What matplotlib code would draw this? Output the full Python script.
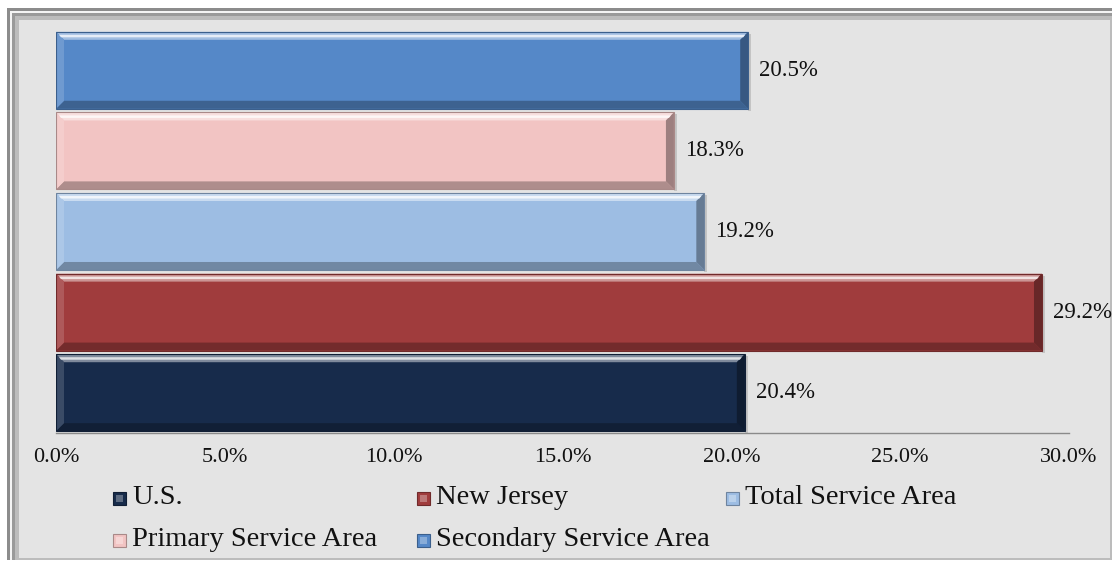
import matplotlib
matplotlib.use("Agg")
import matplotlib.pyplot as plt
import matplotlib.patches as mpatches
import matplotlib.transforms as mtransforms
import numpy as np
from matplotlib.colors import to_rgb

# Share of population by area (bottom to top)
categories = ["U.S.", "New Jersey", "Total Service Area",
              "Primary Service Area", "Secondary Service Area"]
values = [20.4, 29.2, 19.2, 18.3, 20.5]
colors = ["#172b4b", "#a03c3d", "#9dbde3", "#f2c4c3", "#5588c8"]
xticks = [0, 5, 10, 15, 20, 25, 30]
xtick_labels = ["0.0%", "5.0%", "10.0%", "15.0%", "20.0%", "25.0%", "30.0%"]

W, H = 1112, 563
fig = plt.figure(figsize=(W / 100, H / 100), dpi=100)
fig.patch.set_facecolor("white")

SERIF = ["Liberation Serif", "DejaVu Serif"]
BG = "#e4e4e4"


# Outer chart frame with a double grey border
def fig_rect(x0, y0, x1, y1, **kw):
    r = mpatches.Rectangle((x0 / W, 1 - y1 / H), (x1 - x0) / W, (y1 - y0) / H,
                           transform=fig.transFigure, zorder=-10, **kw)
    fig.patches.append(r)


fig_rect(7, 8, 1114, 560, facecolor="#8c8c8c", edgecolor="none")
fig_rect(10, 11, 1114, 560, facecolor="#f4f4f4", edgecolor="none")
fig_rect(12, 13, 1114, 560, facecolor="#9a9a9a", edgecolor="none")
fig_rect(15, 16, 1114, 560, facecolor="#bcbcbc", edgecolor="none")
fig_rect(19, 20, 1110, 558, facecolor=BG, edgecolor="none")

ax = fig.add_axes([56 / W, 1 - 433 / H, (1069 - 56) / W, (433 - 30) / H])
ax.set_facecolor("none")
ax.set_xlim(0, 30)
ax.set_ylim(-0.5, len(values) - 0.5)

ypos = np.arange(len(values))
bars = ax.barh(ypos, values, height=0.955, color=colors, edgecolor="none", zorder=2)

for s in ["top", "right", "left"]:
    ax.spines[s].set_visible(False)
ax.spines["bottom"].set_color("#8a8a8a")
ax.spines["bottom"].set_linewidth(1.0)
ax.set_yticks([])
ax.set_xticks(xticks)
ax.set_xticklabels(xtick_labels, family=SERIF, fontsize=16, color="#111111")
ax.tick_params(axis="x", length=0, pad=11)

fig.canvas.draw()
ident = mtransforms.IdentityTransform()


def mix(c, t, a):
    c = np.array(to_rgb(c)); t = np.array(to_rgb(t))
    return tuple(c * (1 - a) + t * a)


# Bevelled bar faces
B = 8
for bar, col in zip(bars, colors):
    (x0, y0), (x1, y1) = ax.transData.transform(
        [(bar.get_x(), bar.get_y()), (bar.get_x() + bar.get_width(), bar.get_y() + bar.get_height())])
    # soft shadow to the right
    ax.add_patch(mpatches.Rectangle((x1, y0 - 2), 3, y1 - y0, transform=ident,
                                    facecolor="#b0b0b0", edgecolor="none", alpha=0.6, zorder=1))
    top = [(x0, y1), (x1, y1), (x1 - B, y1 - B), (x0 + B, y1 - B)]
    bot = [(x0, y0), (x1, y0), (x1 - B, y0 + B), (x0 + B, y0 + B)]
    lft = [(x0, y0), (x0, y1), (x0 + B, y1 - B), (x0 + B, y0 + B)]
    rgt = [(x1, y0), (x1, y1), (x1 - B, y1 - B), (x1 - B, y0 + B)]
    for poly, fc in [(top, mix(col, "white", 0.45)), (bot, mix(col, "black", 0.28)),
                     (lft, mix(col, "white", 0.15)), (rgt, mix(col, "black", 0.35))]:
        ax.add_patch(mpatches.Polygon(poly, closed=True, transform=ident,
                                      facecolor=fc, edgecolor="none", zorder=3))
    # bright highlight streak along the top bevel
    ax.add_patch(mpatches.Polygon([(x0 + 3, y1 - 3), (x1 - 3, y1 - 3), (x1 - 5, y1 - 5.5), (x0 + 5, y1 - 5.5)],
                                  closed=True, transform=ident, facecolor=mix(col, "white", 0.85),
                                  edgecolor="none", zorder=4))
    ax.add_patch(mpatches.Rectangle((x0, y0), x1 - x0, y1 - y0, transform=ident,
                                    facecolor="none", edgecolor=mix(col, "black", 0.3),
                                    linewidth=0.8, zorder=5))

# Value labels
for y, v in zip(ypos, values):
    ax.annotate(f"{v:.1f}%", (v, y), xytext=(11, 0), textcoords="offset pixels",
                ha="left", va="center", family=SERIF, fontsize=16.5, color="#111111",
                annotation_clip=False)

# Legend laid out in two rows
slots = [(113, 498), (417, 498), (726, 498), (113, 540), (417, 540)]
for idx, (lx, ly) in enumerate(slots):
    col = colors[idx]
    s = 13
    fig.patches.append(mpatches.Rectangle((lx / W, 1 - (ly + s / 2) / H), s / W, s / H,
                                          transform=fig.transFigure, facecolor=col,
                                          edgecolor=mix(col, "black", 0.3), linewidth=0.8))
    fig.patches.append(mpatches.Rectangle(((lx + 3) / W, 1 - (ly + s / 2 - 3) / H), (s - 6) / W, (s - 6) / H,
                                          transform=fig.transFigure, facecolor=mix(col, "white", 0.3),
                                          edgecolor="none"))
    fig.text((lx + s + 6) / W, 1 - ly / H, categories[idx], family=SERIF, fontsize=20.5,
             color="#111111", ha="left", va="center")

fig.savefig("out.png", dpi=100, facecolor=fig.get_facecolor())
